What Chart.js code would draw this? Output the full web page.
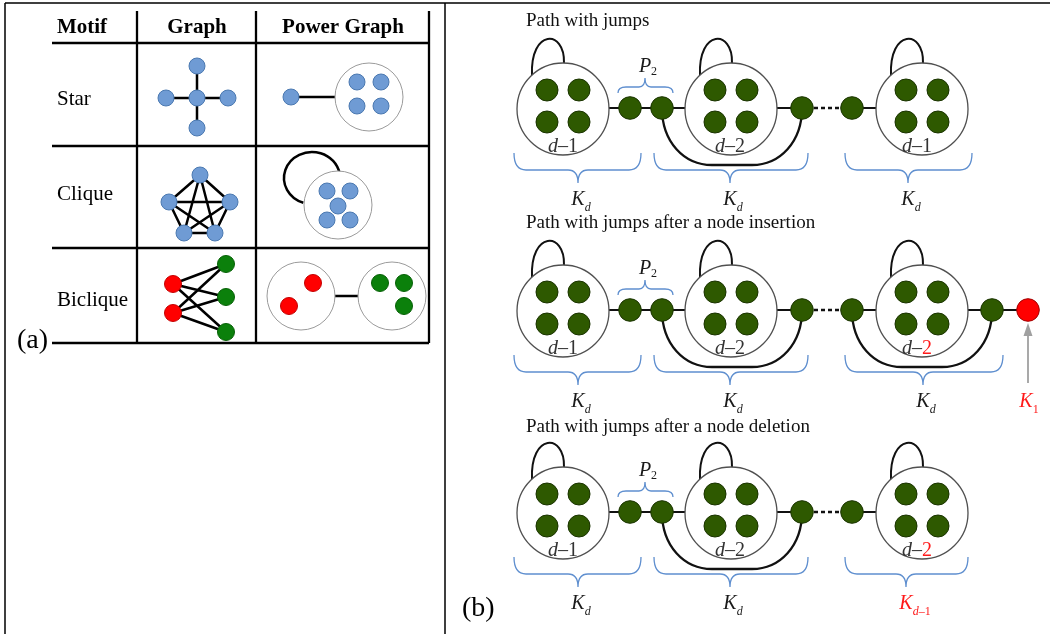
<!DOCTYPE html>
<html><head><meta charset="utf-8">
<script src="https://cdn.jsdelivr.net/npm/chart.js@4.4.0/dist/chart.umd.min.js"></script>
<style>html,body{margin:0;padding:0;background:#fff;overflow:hidden}canvas{display:block}</style>
</head><body>
<canvas id="c" width="1050" height="634" style="width:1050px;height:634px"></canvas>
<script>
// ================= DATA (diagram coordinates, in data units) =================
// ---- Panel (a): motif table ----
const headerLabels = ['Motif', 'Graph', 'Power Graph'];
const headerX = [82, 197, 343];
const headerBaseline = 33;
const motifLabels = ['Star', 'Clique', 'Biclique'];
const motifBaselines = [105, 200, 306];
const motifLabelX = 57;
const tableColX = [137, 256, 429];
const tableRowY = [43, 146, 248, 343];
const tableSpanX = [52, 429];
const tableSpanY = [11, 343];
const frameSegments = [[[5, 3], [1050, 3]], [[5, 3], [5, 634]], [[445, 3], [445, 634]]];

const starNodes = [[197, 66], [166, 98], [197, 98], [228, 98], [197, 128]];
const starEdges = [[2, 0], [2, 1], [2, 3], [2, 4]];
const starPowerSingle = [291, 97];
const starPowerCircle = [369, 97];
const starPowerMembers = [[357, 82], [381, 82], [357, 106], [381, 106]];

const cliqueNodes = [[200, 175], [169, 202], [230, 202], [184, 233], [215, 233]];
const cliquePowerCircle = [338, 205];
const cliquePowerMembers = [[327, 191], [350, 191], [338, 206], [327, 220], [350, 220]];
const cliqueLoop = [312, 178, 28, 26, 108, 350]; // cx, cy, rx, ry, fromDeg, toDeg

const bicliqueRed = [[173, 284], [173, 313]];
const bicliqueGreen = [[226, 264], [226, 297], [226, 332]];
const bicliquePowerCircles = [[301, 296], [392, 296]];
const bicliquePowerRed = [[313, 283], [289, 306]];
const bicliquePowerGreen = [[380, 283], [404, 283], [404, 306]];

// ---- Panel (b): paths with jumps ----
const rowOffsets = [0, 202, 404];
const rowTitles = ['Path with jumps', 'Path with jumps after a node insertion', 'Path with jumps after a node deletion'];
const titleBaselines = [26, 228, 432];
const titleX = 526;
const pathY = 108;
const clusterX = [563, 731, 922];
const clusterY = 109;
const memberDX = [-16, 16];
const memberDY = [-19, 13];
const pathNodeX = [630, 662, 802, 852];
const tailNodeX = [[], [992], []];
const insertedNodeX = [null, 1028, null];
const jumps = [[[662, 802]], [[662, 802], [852, 992]], [[662, 802]]];
const clusterLabelX = [563, 730, 917];
const clusterLabelNum = [['1', '2', '1'], ['1', '2', '2'], ['1', '2', '2']];
const clusterLabelRed = [[false, false, false], [false, false, true], [false, false, true]];
const braces = [
  [[514, 641, 578], [654, 808, 730], [845, 972, 908]],
  [[514, 641, 578], [654, 808, 730], [845, 1003, 923]],
  [[514, 641, 578], [654, 808, 730], [845, 968, 906]]
];
const braceSub = [['d', 'd', 'd'], ['d', 'd', 'd'], ['d', 'd', 'd–1']];
const braceRed = [[false, false, false], [false, false, false], [false, false, true]];
const p2Brace = [618, 673, 645];
const insertArrow = [1028, 383, 323]; // x, from y, tip y (row 2)
const panelLabels = [['(a)', 17, 348], ['(b)', 462, 616]];

// ================= helpers =================
const SERIF = '"Liberation Serif", "Times New Roman", serif';
const pt = p => ({x: p[0], y: p[1]});
function segData(pairs) {
  const out = [];
  pairs.forEach((s, i) => { if (i > 0) out.push({x: s[0][0], y: null}); out.push(pt(s[0]), pt(s[1])); });
  return out;
}
function lineDs(pairs, width, color, order, dash) {
  return {type: 'line', data: segData(pairs), borderColor: color, borderWidth: width, pointRadius: 0,
    pointHoverRadius: 0, fill: false, tension: 0, spanGaps: false, order, borderDash: dash || [], borderCapStyle: 'butt', clip: false};
}
function nodeDs(points, r, fill, border, bw, order) {
  return {type: 'scatter', data: points.map(pt), pointRadius: r, pointHoverRadius: r, backgroundColor: fill,
    borderColor: border, borderWidth: bw, pointHoverBorderWidth: bw, order, clip: false};
}

// ================= datasets =================
const tablePairs = tableColX.map(x => [[x, tableSpanY[0]], [x, tableSpanY[1]]])
  .concat(tableRowY.map(y => [[tableSpanX[0], y], [tableSpanX[1], y]]));

const aEdges = [];
starEdges.forEach(([i, j]) => aEdges.push([starNodes[i], starNodes[j]]));
for (let i = 0; i < cliqueNodes.length; i++) for (let j = i + 1; j < cliqueNodes.length; j++) aEdges.push([cliqueNodes[i], cliqueNodes[j]]);
bicliqueRed.forEach(r => bicliqueGreen.forEach(g => aEdges.push([r, g])));
aEdges.push([starPowerSingle, starPowerCircle]);
aEdges.push([bicliquePowerCircles[0], bicliquePowerCircles[1]]);

const bSolid = [], bDashed = [], bMembers = [], bPathNodes = [], bRed = [], bClusters = [];
rowOffsets.forEach((off, r) => {
  const y = pathY + off;
  const cy = clusterY + off;
  clusterX.forEach(cx => {
    bClusters.push([cx, cy]);
    memberDY.forEach(dy => memberDX.forEach(dx => bMembers.push([cx + dx, cy + dy])));
  });
  const n = pathNodeX;
  bSolid.push([[clusterX[0], y], [n[0], y]], [[n[0], y], [n[1], y]], [[n[1], y], [clusterX[1], y]],
    [[clusterX[1], y], [n[2], y]], [[n[3], y], [clusterX[2], y]]);
  bDashed.push([[n[2] + 12, y], [n[3] - 12, y]]);
  n.forEach(x => bPathNodes.push([x, y]));
  let prev = clusterX[2];
  tailNodeX[r].forEach(x => { bSolid.push([[prev, y], [x, y]]); bPathNodes.push([x, y]); prev = x; });
  if (insertedNodeX[r] !== null) { bSolid.push([[prev, y], [insertedNodeX[r], y]]); bRed.push([insertedNodeX[r], y]); }
});

const BLUE = '#6f9bd4', BLUE_B = '#4a78b0';
const datasets = [
  lineDs(frameSegments, 1.5, '#000', 30),
  lineDs(tablePairs, 2.3, '#000', 29),
  lineDs(aEdges, 2.5, '#000', 20),
  lineDs(bSolid, 2.2, '#111', 20),
  lineDs(bDashed, 2.6, '#111', 20, [4, 3]),
  nodeDs([starPowerCircle, cliquePowerCircle].concat(bicliquePowerCircles), 34, '#fff', '#9a9a9a', 1, 12),
  nodeDs(bClusters, 46, '#fff', '#505050', 1.3, 12),
  nodeDs(starNodes.concat([starPowerSingle], starPowerMembers, cliqueNodes, cliquePowerMembers), 8, BLUE, BLUE_B, 1, 2),
  nodeDs(bicliqueRed.concat(bicliquePowerRed), 8.5, '#ff0000', '#c40000', 1, 2),
  nodeDs(bicliqueGreen.concat(bicliquePowerGreen), 8.5, '#0b800b', '#066006', 1, 2),
  nodeDs(bMembers, 11, '#2e5900', '#1a3300', 1, 2),
  nodeDs(bPathNodes, 11.3, '#2e5900', '#1a3300', 1, 2),
  nodeDs(bRed, 11.3, '#ff0000', '#a00000', 1, 2)
];

// ================= drawing plugin (curves + text, via the scales) =================
function drawParts(ctx, parts, x, y, anchor) {
  const widths = parts.map(p => { ctx.font = p.font; return ctx.measureText(p.t).width; });
  const total = widths.reduce((a, b) => a + b, 0);
  let sx = anchor === 'center' ? x - total / 2 : anchor === 'first' ? x - widths[0] / 2 : x;
  parts.forEach((p, i) => { ctx.font = p.font; ctx.fillStyle = p.color; ctx.fillText(p.t, sx, y + (p.dy || 0)); sx += widths[i]; });
}

const diagramPlugin = {
  id: 'diagram',
  beforeDatasetsDraw(chart) {
    const {ctx} = chart;
    const xs = chart.scales.x, ys = chart.scales.y;
    const X = v => xs.getPixelForValue(v), Y = v => ys.getPixelForValue(v);
    ctx.save();
    ctx.lineCap = 'butt';
    // clique self loop
    const [lcx, lcy, lrx, lry, a0, a1] = cliqueLoop;
    ctx.strokeStyle = '#000'; ctx.lineWidth = 2.5;
    ctx.beginPath();
    ctx.ellipse(X(lcx), Y(lcy), X(lcx + lrx) - X(lcx), Y(lcy + lry) - Y(lcy), 0, a0 * Math.PI / 180, a1 * Math.PI / 180);
    ctx.stroke();

    rowOffsets.forEach((off, r) => {
      const y = pathY + off, cy = clusterY + off;
      // self loops on clusters
      ctx.strokeStyle = '#111'; ctx.lineWidth = 2;
      clusterX.forEach(cx => {
        ctx.beginPath();
        ctx.moveTo(X(cx - 31), Y(cy - 34));
        ctx.bezierCurveTo(X(cx - 33), Y(cy - 80), X(cx + 2), Y(cy - 80), X(cx + 1), Y(cy - 46));
        ctx.stroke();
      });
      // jumps
      ctx.lineWidth = 2.3;
      jumps[r].forEach(([x1, x2]) => {
        const yb = y + 57;
        ctx.beginPath();
        ctx.moveTo(X(x1), Y(y));
        ctx.bezierCurveTo(X(x1), Y(y + 34), X(x1 + 22), Y(yb), X(x1 + 50), Y(yb));
        ctx.lineTo(X(x2 - 50), Y(yb));
        ctx.bezierCurveTo(X(x2 - 22), Y(yb), X(x2), Y(y + 34), X(x2), Y(y));
        ctx.stroke();
      });
      // braces below
      ctx.strokeStyle = '#5f8fcf'; ctx.lineWidth = 1.3;
      braces[r].forEach(([x1, x2, tip]) => {
        const ye = y + 45, yl = y + 62, yt = y + 75;
        ctx.beginPath();
        ctx.moveTo(X(x1), Y(ye));
        ctx.quadraticCurveTo(X(x1), Y(yl), X(x1 + 12), Y(yl));
        ctx.lineTo(X(tip - 10), Y(yl));
        ctx.quadraticCurveTo(X(tip), Y(yl), X(tip), Y(yt));
        ctx.quadraticCurveTo(X(tip), Y(yl), X(tip + 10), Y(yl));
        ctx.lineTo(X(x2 - 12), Y(yl));
        ctx.quadraticCurveTo(X(x2), Y(yl), X(x2), Y(ye));
        ctx.stroke();
      });
      // P2 brace (above)
      {
        const [x1, x2, tip] = p2Brace;
        const ye = y - 15, yl = y - 21, yt = y - 30;
        ctx.beginPath();
        ctx.moveTo(X(x1), Y(ye));
        ctx.quadraticCurveTo(X(x1), Y(yl), X(x1 + 8), Y(yl));
        ctx.lineTo(X(tip - 6), Y(yl));
        ctx.quadraticCurveTo(X(tip), Y(yl), X(tip), Y(yt));
        ctx.quadraticCurveTo(X(tip), Y(yl), X(tip + 6), Y(yl));
        ctx.lineTo(X(x2 - 8), Y(yl));
        ctx.quadraticCurveTo(X(x2), Y(yl), X(x2), Y(ye));
        ctx.stroke();
      }
      // insertion arrow
      if (insertedNodeX[r] !== null) {
        const [ax, ay0, ayTip] = insertArrow;
        ctx.strokeStyle = '#a0a0a0'; ctx.fillStyle = '#a0a0a0'; ctx.lineWidth = 1.8;
        ctx.beginPath(); ctx.moveTo(X(ax), Y(ay0)); ctx.lineTo(X(ax), Y(ayTip + 12)); ctx.stroke();
        ctx.beginPath(); ctx.moveTo(X(ax), Y(ayTip)); ctx.lineTo(X(ax - 4.5), Y(ayTip + 13)); ctx.lineTo(X(ax + 4.5), Y(ayTip + 13)); ctx.closePath(); ctx.fill();
      }
    });
    ctx.restore();
  },
  afterDatasetsDraw(chart) {
    const {ctx} = chart;
    const xs = chart.scales.x, ys = chart.scales.y;
    const X = v => xs.getPixelForValue(v), Y = v => ys.getPixelForValue(v);
    ctx.save();
    ctx.textBaseline = 'alphabetic'; ctx.textAlign = 'left';
    const F = (size, style) => `${style || ''} ${size}px ${SERIF}`;
    const INK = '#1a1a1a', RED = '#ff1a1a';
    headerLabels.forEach((t, i) => drawParts(ctx, [{t, font: F(21, 'bold'), color: '#000'}], X(headerX[i]), Y(headerBaseline), 'center'));
    motifLabels.forEach((t, i) => drawParts(ctx, [{t, font: F(21), color: '#000'}], X(motifLabelX), Y(motifBaselines[i]), 'left'));
    panelLabels.forEach(([t, x, y]) => drawParts(ctx, [{t, font: F(28), color: '#000'}], X(x), Y(y), 'left'));
    rowOffsets.forEach((off, r) => {
      drawParts(ctx, [{t: rowTitles[r], font: F(19), color: '#111'}], X(titleX), Y(titleBaselines[r]), 'left');
      // P2
      drawParts(ctx, [{t: 'P', font: F(20, 'italic'), color: INK}, {t: '2', font: F(12), color: INK, dy: 3}], X(p2Brace[2]), Y(72 + off), 'first');
      // cluster labels
      clusterLabelX.forEach((cx, k) => {
        drawParts(ctx, [{t: 'd', font: F(20, 'italic'), color: '#333'}, {t: '–', font: F(20), color: '#333'},
          {t: clusterLabelNum[r][k], font: F(20), color: clusterLabelRed[r][k] ? RED : '#333'}], X(cx), Y(152 + off), 'center');
      });
      // K labels
      braces[r].forEach(([x1, x2, tip], k) => {
        const col = braceRed[r][k] ? RED : INK;
        const sub = braceSub[r][k];
        const parts = [{t: 'K', font: F(20, 'italic'), color: col}, {t: 'd', font: F(12, 'italic'), color: col, dy: 6}];
        if (sub.length > 1) parts.push({t: sub.slice(1), font: F(12), color: col, dy: 6});
        drawParts(ctx, parts, X(tip), Y(205 + off), 'first');
      });
      if (insertedNodeX[r] !== null) {
        drawParts(ctx, [{t: 'K', font: F(20, 'italic'), color: RED}, {t: '1', font: F(12), color: RED, dy: 6}], X(insertedNodeX[r] - 2), Y(205 + off), 'first');
      }
    });
    ctx.restore();
  }
};

new Chart(document.getElementById('c'), {
  type: 'scatter',
  data: {datasets},
  options: {
    responsive: false, animation: false, events: [],
    layout: {padding: 0, autoPadding: false},
    plugins: {legend: {display: false}, tooltip: {enabled: false}},
    scales: {
      x: {type: 'linear', min: 0, max: 1050, display: false},
      y: {type: 'linear', min: 0, max: 634, reverse: true, display: false}
    }
  },
  plugins: [diagramPlugin]
});
</script>
</body></html>
